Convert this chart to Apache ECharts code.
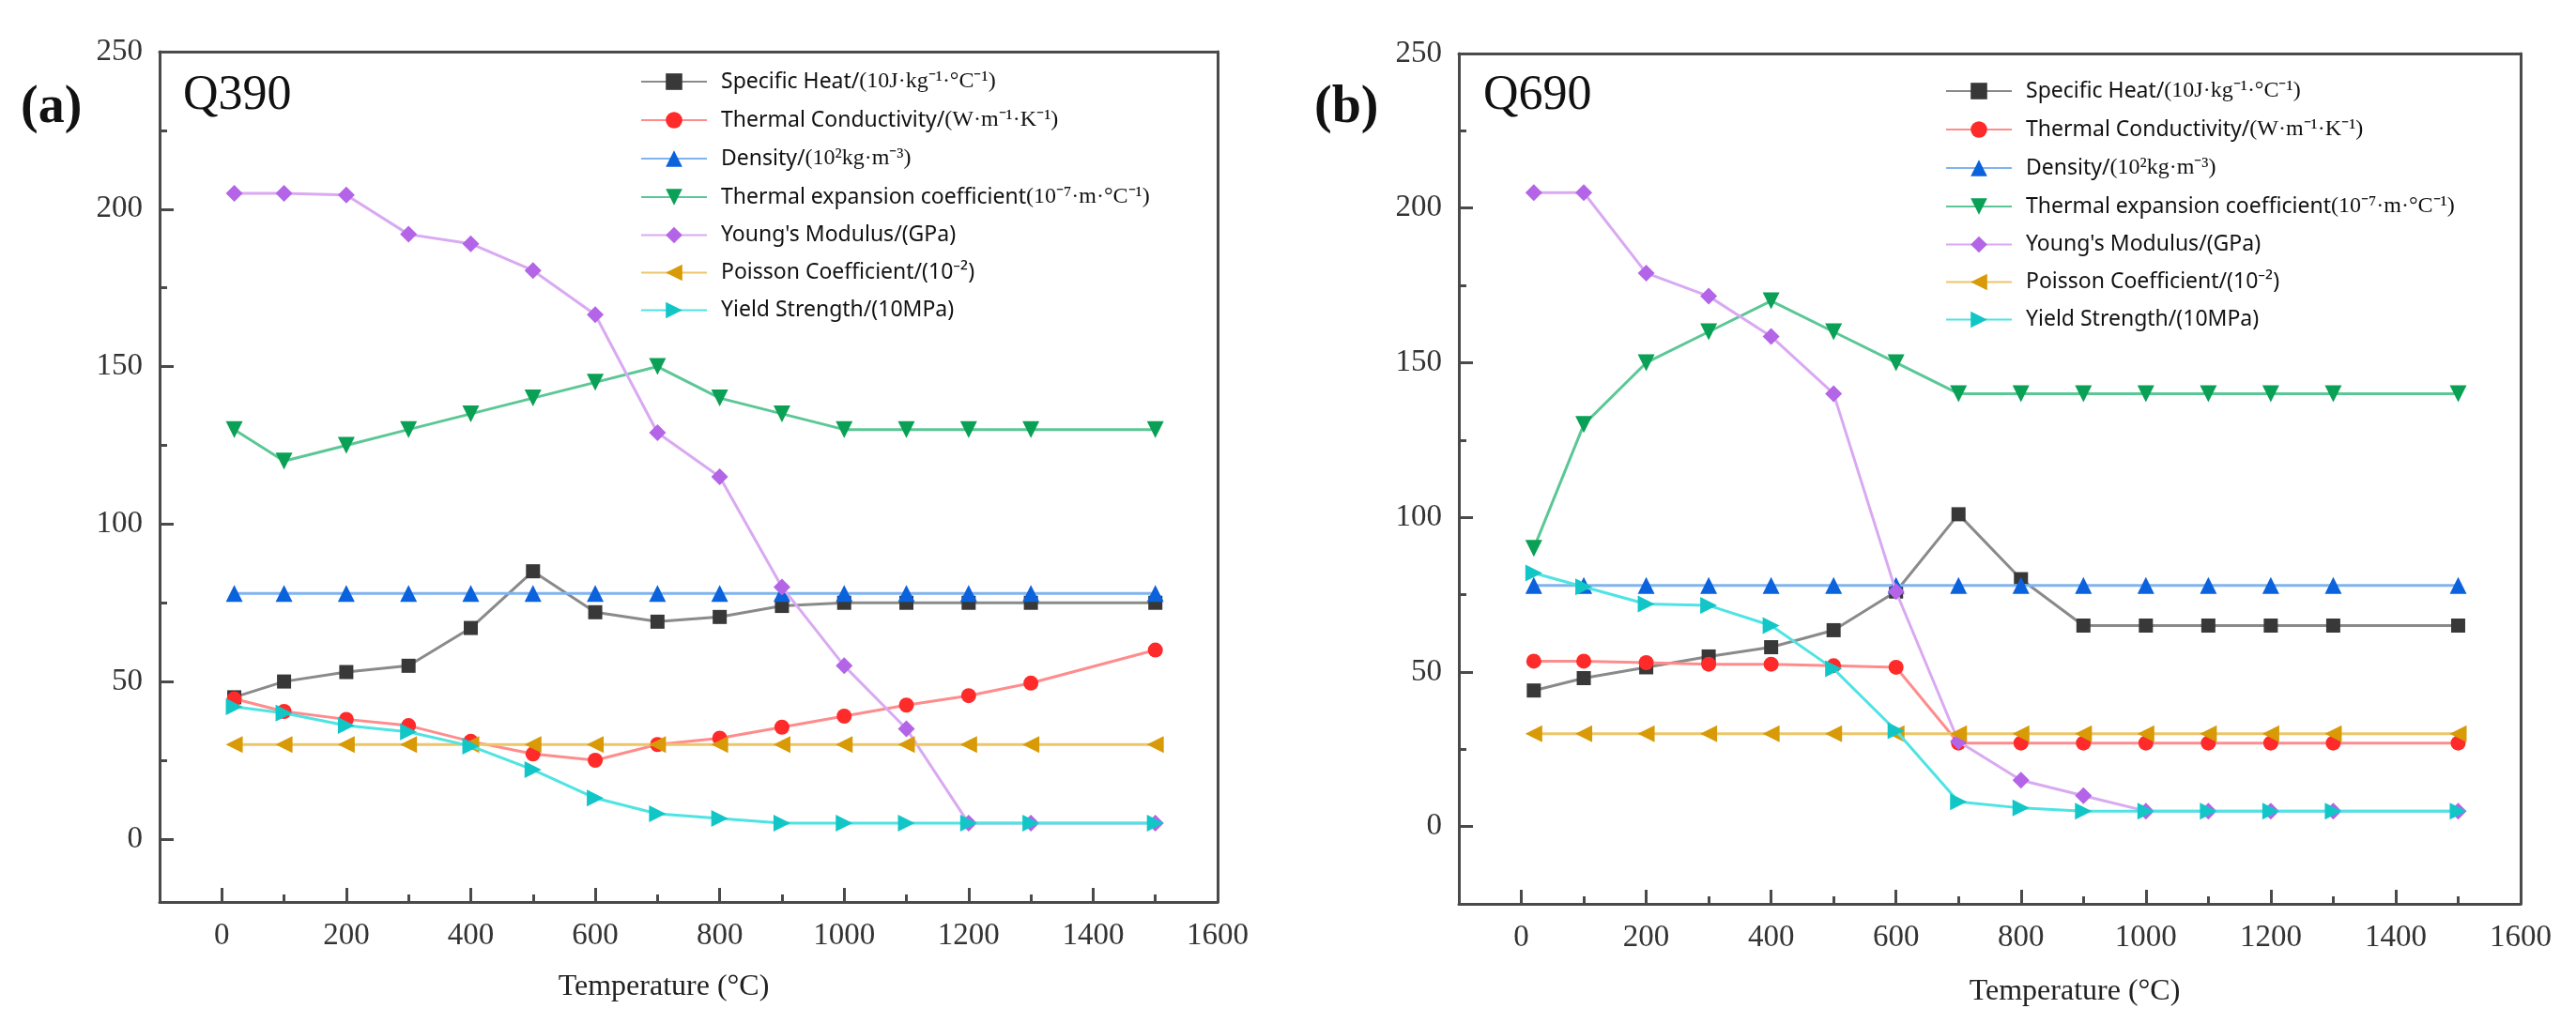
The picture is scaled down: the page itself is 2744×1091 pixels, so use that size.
<!DOCTYPE html>
<html>
<head>
<meta charset="utf-8">
<script src="https://cdn.jsdelivr.net/npm/echarts@6/dist/echarts.min.js"></script>
<style>
html,body{margin:0;padding:0;background:#fff;}
#chart{width:2744px;height:1091px;}
</style>
</head>
<body>
<div id="chart"></div>
<script>
// ---- data ----
const temps = [20,100,200,300,400,500,600,700,800,900,1000,1100,1200,1300,1500];
const seriesNames = [
  'Specific Heat/(10J·kg⁻¹·°C⁻¹)',
  'Thermal Conductivity/(W·m⁻¹·K⁻¹)',
  'Density/(10²kg·m⁻³)',
  'Thermal expansion coefficient(10⁻⁷·m·°C⁻¹)',
  "Young's Modulus/(GPa)",
  'Poisson Coefficient/(10⁻²)',
  'Yield Strength/(10MPa)'
];
// Q390
const q390SpecificHeat = [45,50,53,55,67,85,72,69,70.5,74,75,75,75,75,75];
const q390ThermalCond  = [44.5,40.5,38,36,31,27,25,30,32,35.5,39,42.5,45.5,49.5,60];
const q390Density      = [78,78,78,78,78,78,78,78,78,78,78,78,78,78,78];
const q390ThermalExp   = [130,120,125,130,135,140,145,150,140,135,130,130,130,130,130];
const q390Young        = [205,205,204.5,192,189,180.5,166.5,129,115,80,55,35,5,5,5];
const q390Poisson      = [30,30,30,30,30,30,30,30,30,30,30,30,30,30,30];
const q390Yield        = [42,40,36,34,29.5,22,13,8,6.5,5,5,5,5,5,5];
// Q690
const q690SpecificHeat = [44,48,51.5,55,58,63.5,76,101,80,65,65,65,65,65,65];
const q690ThermalCond  = [53.5,53.5,53,52.5,52.5,52,51.5,27,27,27,27,27,27,27,27];
const q690Density      = [78,78,78,78,78,78,78,78,78,78,78,78,78,78,78];
const q690ThermalExp   = [90,130,150,160,170,160,150,140,140,140,140,140,140,140,140];
const q690Young        = [205,205,179,171.5,158.5,140,76,27.5,15,10,5,5,5,5,5];
const q690Poisson      = [30,30,30,30,30,30,30,30,30,30,30,30,30,30,30];
const q690Yield        = [82,77.5,72,71.5,65,51,31,8,6,5,5,5,5,5,5];
// ticks
const xMajorTicks = [0,200,400,600,800,1000,1200,1400,1600];
const xMinorTicks = [100,300,500,700,900,1100,1300,1500];
const yMajorTicks = [0,50,100,150,200,250];
const yMinorTicks = [25,75,125,175,225];

// ---- styles ----
const styles = [
  {symbol:'rect', size:15, rot:0, line:'#8a8a8a', mark:'#383838'},
  {symbol:'circle', size:16, rot:0, line:'#ff8c8c', mark:'#ff2a2a'},
  {symbol:'triangle', size:18, rot:0, line:'#80b4ee', mark:'#0a62dc'},
  {symbol:'triangle', size:18, rot:180, line:'#5cc796', mark:'#0aa055'},
  {symbol:'diamond', size:18, rot:0, line:'#d9a9f2', mark:'#b464e6'},
  {symbol:'triangle', size:18, rot:90, line:'#ecc66a', mark:'#d89a06'},
  {symbol:'triangle', size:18, rot:-90, line:'#4fe3e3', mark:'#12c6c8'}
];
const q390 = [q390SpecificHeat,q390ThermalCond,q390Density,q390ThermalExp,q390Young,q390Poisson,q390Yield];
const q690 = [q690SpecificHeat,q690ThermalCond,q690Density,q690ThermalExp,q690Young,q690Poisson,q690Yield];

const axisColor = '#4a4a4a';
const serif = '"Liberation Serif","Times New Roman",serif';
const MAJ = 15, MIN = 8;   // tick lengths in px

// invisible helper axis whose zero sits "px" pixels inside the plot edge
function helperAxis(kind, gridIndex, span, pxPerUnit, px){
  const shift = px / pxPerUnit;
  return {type:'value', gridIndex, min:-shift, max:span - shift,
    position: kind==='x'?'bottom':'left',
    axisLine:{show:false, onZero:false}, axisTick:{show:false},
    axisLabel:{show:false}, splitLine:{show:false}};
}
// tick-only axis that sits on a helper's zero; outward ticks reach back to the edge
function tickAxis(kind, gridIndex, min, max, ticks, len){
  return {type:'value', gridIndex, min, max,
    position: kind==='x'?'bottom':'left', z:5,
    axisLine:{show:false, onZero:true},
    axisTick:{show:true, inside:false, length:len, customValues:ticks, lineStyle:{color:axisColor, width:3}},
    axisLabel:{show:false}, splitLine:{show:false}};
}
function frameAxis(kind, gridIndex, min, max){
  return {type:'value', gridIndex, min, max, position: kind==='x'?'top':'right',
    axisLine:{show:true, onZero:false, lineStyle:{color:axisColor, width:3}},
    axisTick:{show:false}, axisLabel:{show:false}, splitLine:{show:false}};
}
function xAxes(gridIndex, width){
  const ppu = width / 1700;
  return [
    helperAxis('x', gridIndex, 1700, ppu, MAJ),
    helperAxis('x', gridIndex, 1700, ppu, MIN),
    {type:'value', gridIndex, min:-100, max:1600, interval:100, position:'bottom',
     axisLine:{show:true, onZero:false, lineStyle:{color:axisColor, width:3}},
     axisTick:{show:false},
     axisLabel:{show:true, customValues:xMajorTicks, margin:20, fontFamily:serif, fontSize:33, color:'#333',
       formatter: v => String(v)},
     splitLine:{show:false}},
    tickAxis('x', gridIndex, -100, 1600, xMajorTicks, MAJ),
    tickAxis('x', gridIndex, -100, 1600, xMinorTicks, MIN),
    frameAxis('x', gridIndex, -100, 1600)
  ];
}
function yAxes(gridIndex, min, height){
  const span = 250 - min;
  const ppu = height / span;
  return [
    helperAxis('y', gridIndex, span, ppu, MAJ),
    helperAxis('y', gridIndex, span, ppu, MIN),
    {type:'value', gridIndex, min:min, max:250, interval:5, position:'left',
     axisLine:{show:true, onZero:false, lineStyle:{color:axisColor, width:3}},
     axisTick:{show:false},
     axisLabel:{show:true, customValues:yMajorTicks, margin:18, fontFamily:serif, fontSize:33, color:'#333',
       formatter: v => String(v)},
     splitLine:{show:false}},
    tickAxis('y', gridIndex, min, 250, yMajorTicks, MAJ),
    tickAxis('y', gridIndex, min, 250, yMinorTicks, MIN),
    frameAxis('y', gridIndex, min, 250)
  ];
}

function buildSeries(sets, xIdx, yIdx){
  return sets.map((vals, i) => ({
    name: seriesNames[i],
    type: 'line',
    xAxisIndex: xIdx, yAxisIndex: yIdx,
    data: temps.map((t, k) => [t, vals[k]]),
    symbol: styles[i].symbol,
    symbolSize: styles[i].size,
    symbolRotate: styles[i].rot,
    showAllSymbol: true,
    lineStyle: {color: styles[i].line, width: 3},
    itemStyle: {color: styles[i].mark},
    emphasis: {disabled: true},
    animation: false,
    z: 2 + i
  }));
}

function legend(left, top, gap){
  return {
    orient:'vertical', left, top, itemWidth:70, itemHeight:22, itemGap:gap,
    data: seriesNames, selectedMode:false,
    formatter: function(name){
      const idx = seriesNames.indexOf(name);
      const p = name.indexOf('(');
      if (idx < 4 && p > 0) {
        return '{s|' + name.slice(0,p) + '}{u|' + name.slice(p) + '}';
      }
      return '{s|' + name + '}';
    },
    textStyle:{
      padding:[0,0,0,10], lineHeight:22,
      rich:{
        s:{fontFamily:'"Noto Sans","DejaVu Sans",sans-serif', fontSize:23, color:'#111', lineHeight:22},
        u:{fontFamily:serif, fontSize:24, color:'#111', lineHeight:22}
      }
    }
  };
}

const chart = echarts.init(document.getElementById('chart'), null, {renderer:'canvas'});
chart.setOption({
  backgroundColor:'#ffffff',
  animation:false,
  grid:[
    {left:170, top:55, width:1127, height:906, show:false},
    {left:1554, top:57, width:1131, height:906, show:false}
  ],
  xAxis: xAxes(0, 1127).concat(xAxes(1, 1131)),
  yAxis: yAxes(0, -20, 906).concat(yAxes(1, -25, 906)),
  legend: [legend(677, 70, 17), legend(2067, 80, 17)],
  graphic: [
    {type:'text', left:22, top:88, style:{text:'(a)', font:'bold 56px ' + serif, fill:'#111'}},
    {type:'text', left:195, top:76, style:{text:'Q390', font:'52px ' + serif, fill:'#111'}},
    {type:'text', left:1400, top:88, style:{text:'(b)', font:'bold 56px ' + serif, fill:'#111'}},
    {type:'text', left:1580, top:76, style:{text:'Q690', font:'52px ' + serif, fill:'#111'}},
    {type:'text', x:707, y:1052, style:{text:'Temperature (°C)', font:'32px ' + serif, fill:'#222', align:'center', verticalAlign:'middle'}},
    {type:'text', x:2210, y:1057, style:{text:'Temperature (°C)', font:'32px ' + serif, fill:'#222', align:'center', verticalAlign:'middle'}}
  ],
  series: buildSeries(q390, 2, 2).concat(buildSeries(q690, 8, 8))
});
</script>
</body>
</html>
